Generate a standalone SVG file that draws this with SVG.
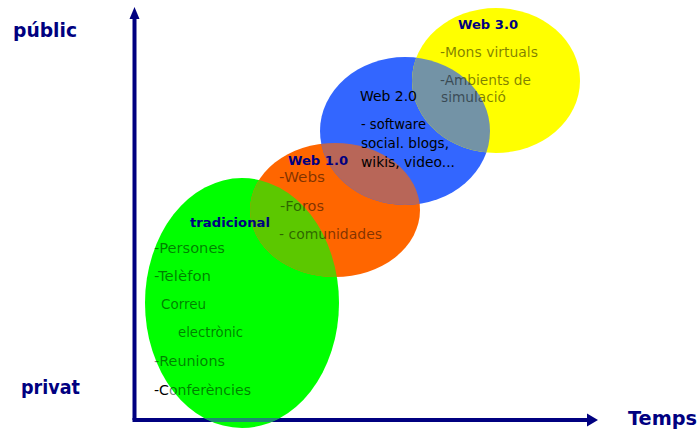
<svg xmlns="http://www.w3.org/2000/svg" width="700" height="434" viewBox="0 0 700 434">
<style>
  .ax{stroke:#000080;stroke-width:4;fill:none}
  .axh{fill:#000080}
  .lab{font-family:"DejaVu Sans","Liberation Sans",sans-serif;font-weight:bold;fill:#000080;font-size:19px}
  .ttl{font-family:"DejaVu Sans","Liberation Sans",sans-serif;font-weight:bold;fill:#000080;font-size:13px}
  .t{font-family:"DejaVu Sans","Liberation Sans",sans-serif;font-size:14px;fill:#000;fill-opacity:0.5}
  .tb{font-family:"DejaVu Sans","Liberation Sans",sans-serif;font-size:14px;fill:#000}
</style>
<defs>
  <clipPath id="cGreen"><ellipse cx="242" cy="303" rx="97" ry="125"/></clipPath>
  <clipPath id="cBlue"><ellipse cx="405" cy="131" rx="85" ry="74"/></clipPath>
</defs>
<rect width="700" height="434" fill="#fff"/>

<g id="connectors">
  <g id="axis-y">
    <line class="ax" x1="134.5" y1="16" x2="134.5" y2="420"/>
    <polygon class="axh" points="134.5,7 139.5,19 129.5,19"/>
  </g>
  <g id="axis-x">
    <line class="ax" x1="132.5" y1="420" x2="590" y2="420"/>
    <polygon class="axh" points="598,420 587,413.5 587,426.5"/>
  </g>
</g>

<g id="node-tradicional-shape"><ellipse cx="242" cy="303" rx="97" ry="125" fill="#00FF00"/></g>
<g id="node-web10-shape"><ellipse cx="335" cy="210" rx="85" ry="67" fill="#FF6600"/></g>
<g id="node-web20-shape"><ellipse cx="405" cy="131" rx="85" ry="74" fill="#3366FF"/></g>
<g id="node-web30-shape"><ellipse cx="496" cy="80.5" rx="84" ry="72.5" fill="#FFFF00"/></g>

<g id="overlaps">
  <ellipse cx="335" cy="210" rx="85" ry="67" fill="#5CC800" clip-path="url(#cGreen)"/>
  <ellipse cx="335" cy="210" rx="85" ry="67" fill="#B86658" clip-path="url(#cBlue)"/>
  <ellipse cx="496" cy="80.5" rx="84" ry="72.5" fill="#7393A6" clip-path="url(#cBlue)"/>
  <line x1="132.5" y1="420" x2="590" y2="420" stroke="#1E8A6E" stroke-width="4" clip-path="url(#cGreen)"/>
</g>

<g id="axis-labels">
  <text class="lab" x="13" y="37" textLength="64" lengthAdjust="spacingAndGlyphs">públic</text>
  <text class="lab" x="21" y="394" textLength="59" lengthAdjust="spacingAndGlyphs">privat</text>
  <text class="lab" x="628" y="425" textLength="69" lengthAdjust="spacingAndGlyphs">Temps</text>
</g>

<g id="node-tradicional">
  <text class="ttl" x="190" y="227" textLength="80" lengthAdjust="spacingAndGlyphs">tradicional</text>
  <text class="t" x="154" y="253" textLength="71" lengthAdjust="spacingAndGlyphs">-Persones</text>
  <text class="t" x="154" y="281" textLength="57" lengthAdjust="spacingAndGlyphs">-Telèfon</text>
  <text class="t" x="161" y="309" textLength="45" lengthAdjust="spacingAndGlyphs">Correu</text>
  <text class="t" x="178" y="337" textLength="65" lengthAdjust="spacingAndGlyphs">electrònic</text>
  <text class="t" x="154" y="366" textLength="71" lengthAdjust="spacingAndGlyphs">-Reunions</text>
  <text class="t" x="154" y="395" textLength="97" lengthAdjust="spacingAndGlyphs"><tspan fill-opacity="1">-C</tspan>onferències</text>
</g>

<g id="node-web10">
  <text class="ttl" x="288" y="165" textLength="60" lengthAdjust="spacingAndGlyphs">Web 1.0</text>
  <text class="t" x="279" y="182" textLength="46" lengthAdjust="spacingAndGlyphs">-Webs</text>
  <text class="t" x="280" y="211" textLength="44" lengthAdjust="spacingAndGlyphs">-Foros</text>
  <text class="t" x="279" y="239" textLength="103" lengthAdjust="spacingAndGlyphs">- comunidades</text>
</g>

<g id="node-web20">
  <text class="tb" x="360" y="101" textLength="57" lengthAdjust="spacingAndGlyphs">Web 2.0</text>
  <text class="tb" x="361" y="129" textLength="65" lengthAdjust="spacingAndGlyphs">- software</text>
  <text class="tb" x="361" y="148" textLength="88" lengthAdjust="spacingAndGlyphs">social. blogs,</text>
  <text class="tb" x="361" y="167" textLength="94" lengthAdjust="spacingAndGlyphs">wikis, video...</text>
</g>

<g id="node-web30">
  <text class="ttl" x="458" y="29" textLength="60" lengthAdjust="spacingAndGlyphs">Web 3.0</text>
  <text class="t" x="440" y="57" textLength="98" lengthAdjust="spacingAndGlyphs">-Mons virtuals</text>
  <text class="t" x="440" y="85" textLength="91" lengthAdjust="spacingAndGlyphs">-Ambients de</text>
  <text class="t" x="441" y="102" textLength="65" lengthAdjust="spacingAndGlyphs">simulació</text>
</g>
</svg>
